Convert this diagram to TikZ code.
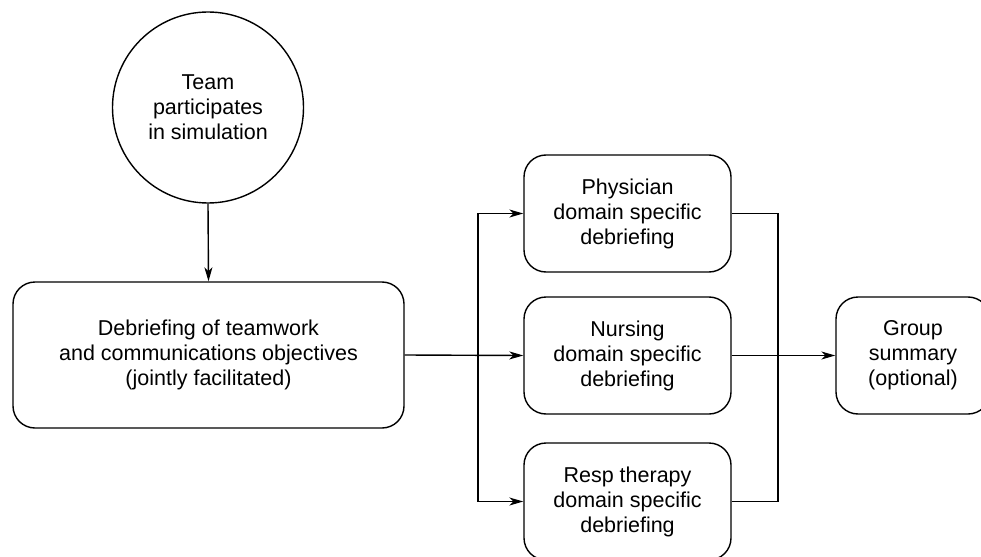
\documentclass[tikz,border=0pt]{standalone}
\usepackage{fontspec}
\setmainfont{Liberation Sans}
\usetikzlibrary{arrows.meta}
\begin{document}
\begin{tikzpicture}[x=1pt,y=-1pt,
  box/.style={draw, line width=1.4pt, rounded corners=22pt, align=center, font=\fontsize{21.5}{25}\selectfont},
  conn/.style={line width=1.4pt},
  arr/.style={conn, -{Stealth[length=14pt,width=8pt,inset=4pt]}}]
\useasboundingbox (0,0) rectangle (981,556);
\node[draw, circle, line width=1.4pt, minimum size=191pt, inner sep=0pt, align=center, font=\fontsize{21.5}{25}\selectfont] (team) at (208,107.5) {Team\\participates\\in simulation};
\node[box, minimum width=391pt, minimum height=146pt] (deb) at (208.5,355) {Debriefing of teamwork\\and communications objectives\\(jointly facilitated)};
\node[box, minimum width=207pt, minimum height=117pt] (phy) at (627.5,213.5) {Physician\\domain specific\\debriefing};
\node[box, minimum width=207pt, minimum height=117pt] (nur) at (627.5,355.5) {Nursing\\domain specific\\debriefing};
\node[box, minimum width=207pt, minimum height=117pt] (resp) at (627.5,501.5) {Resp therapy\\domain specific\\debriefing};
\node[box, minimum width=154pt, minimum height=117pt] (grp) at (913,355.5) {Group\\summary\\(optional)};
\coordinate (split) at (478,355.5);
\coordinate (merge) at (778,355.5);
\draw[arr] (team.south) -- (deb.north);
\draw[arr] (deb.east) -- (nur.west);
\draw[arr] (split) |- (phy.west);
\draw[arr] (split) |- (resp.west);
\draw[conn] (phy.east) -| (merge);
\draw[conn] (resp.east) -| (merge);
\draw[arr] (nur.east) -- (grp.west);
\end{tikzpicture}
\end{document}
